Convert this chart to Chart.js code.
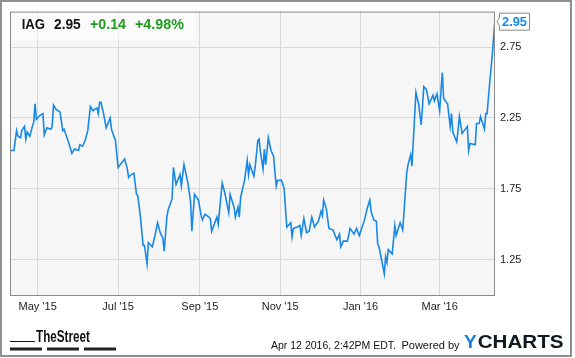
<!DOCTYPE html>
<html><head><meta charset="utf-8">
<script src="https://cdn.jsdelivr.net/npm/chart.js@4"></script>
<style>html,body{margin:0;padding:0;background:#fff;overflow:hidden}canvas{display:block}</style>
</head><body>
<canvas id="c" width="575" height="358"></canvas>
<script>
// Days since 2015-04-10 (first session shown)
const startDate = '2015-04-10';
const days = [
  0,3,5,6,8,9,11,12,13,15,
  17,18,19,20,23,25,26,28,31,32,
  33,35,38,40,41,44,47,49,52,53,
  55,57,59,61,63,64,66,67,68,69,
  71,73,76,77,80,82,87,89,90,92,
  94,96,97,99,101,102,104,105,108,110,
  112,114,116,117,119,120,123,124,126,129,
  130,132,135,137,138,140,143,145,146,148,
  151,152,153,155,157,158,161,163,166,167,
  170,171,173,174,175,178,180,181,182,185,
  186,188,189,190,192,193,194,196,198,200,
  201,202,203,206,208,210,213,214,215,218,
  220,221,223,225,227,229,231,234,236,237,
  238,240,242,245,248,250,251,253,256,258,
  261,263,265,269,271,273,274,276,278,279,
  280,284,285,286,287,290,292,293,294,296,
  298,301,302,304,305,308,310,312,314,316,
  318,319,321,322,324,326,328,329,331,332,
  334,335,336,339,341,343,347,348,349,353,
  354,356,357,360,361,362,364,366,368
];
const prices = [
  2.02,2.02,2.16,2.12,2.11,2.16,2.19,2.10,2.15,2.12,
  2.19,2.22,2.35,2.24,2.27,2.28,2.13,2.18,2.17,2.19,
  2.34,2.31,2.29,2.16,2.17,2.09,2.00,2.03,2.02,2.06,
  2.05,2.09,2.16,2.33,2.30,2.31,2.32,2.28,2.36,2.36,
  2.28,2.18,2.25,2.17,2.09,1.90,1.96,1.89,1.83,1.85,
  1.86,1.71,1.70,1.55,1.35,1.35,1.22,1.37,1.34,1.42,
  1.51,1.44,1.40,1.31,1.55,1.60,1.68,1.90,1.78,1.85,
  1.77,1.92,1.79,1.66,1.45,1.71,1.67,1.56,1.53,1.57,
  1.55,1.54,1.45,1.50,1.55,1.50,1.79,1.72,1.58,1.71,
  1.62,1.55,1.62,1.55,1.69,1.81,1.95,1.85,1.92,1.84,
  1.90,2.09,2.10,2.01,1.89,2.03,1.92,2.11,2.02,1.98,
  1.87,1.77,1.81,1.81,1.75,1.48,1.51,1.41,1.47,1.48,
  1.49,1.42,1.54,1.44,1.45,1.55,1.48,1.52,1.59,1.56,
  1.67,1.61,1.47,1.46,1.39,1.43,1.34,1.38,1.38,1.47,
  1.43,1.47,1.42,1.53,1.61,1.67,1.59,1.53,1.52,1.36,
  1.34,1.15,1.27,1.23,1.32,1.29,1.49,1.42,1.45,1.51,
  1.46,1.86,1.92,1.99,1.91,2.43,2.35,2.20,2.47,2.45,
  2.35,2.37,2.41,2.37,2.42,2.30,2.57,2.39,2.36,2.35,
  2.19,2.28,2.15,2.08,2.26,2.14,2.19,2.02,2.07,2.06,
  2.21,2.21,2.26,2.17,2.28,2.28,2.50,2.70,2.95
];
const tickDays = [21, 82, 144, 205, 266, 326];
const tickLabels = ["May '15", "Jul '15", "Sep '15", "Nov '15", "Jan '16", "Mar '16"];
const yTicks = [1.25, 1.75, 2.25, 2.75];
const ticker = 'IAG';
const lastPrice = '2.95';
const change = '+0.14';
const changePct = '+4.98%';
const stamp = 'Apr 12 2016, 2:42PM EDT.';
const poweredBy = 'Powered by';

const FONT = '"Liberation Sans", Arial, Helvetica, sans-serif';
const LINE = '#1788e6';
const GRID = '#d9d9d9';

const points = days.map((d, i) => ({ x: d, y: prices[i] }));

function fitText(ctx, text, x, y, w) {
  const m = ctx.measureText(text).width;
  ctx.save();
  ctx.translate(x, y);
  ctx.scale(w / m, 1);
  ctx.fillText(text, 0, 0);
  ctx.restore();
}

const decor = {
  id: 'decor',
  beforeDraw(chart) {
    const { ctx, chartArea: a } = chart;
    ctx.save();
    ctx.fillStyle = '#fff';
    ctx.fillRect(0, 0, chart.width, chart.height);
    ctx.fillStyle = '#f6f6f6';
    ctx.fillRect(a.left, a.top, a.right - a.left, a.bottom - a.top);
    ctx.restore();
  },
  beforeDatasetsDraw(chart) {
    const { ctx, chartArea: a } = chart;
    ctx.save();
    ctx.fillStyle = 'rgba(255,255,255,0.55)';
    ctx.fillRect(a.left + 1, a.top + 1, 185, 27);
    ctx.restore();
  },
  afterDraw(chart) {
    const { ctx, chartArea: a } = chart;
    const xs = chart.scales.x, ys = chart.scales.y;
    ctx.save();
    // plot frame
    ctx.strokeStyle = '#8c8c8c';
    ctx.lineWidth = 1;
    ctx.strokeRect(a.left + 0.5, a.top + 0.5, a.right - a.left - 1, a.bottom - a.top);
    // outer frame
    ctx.strokeStyle = '#8f8f8f';
    ctx.lineWidth = 2;
    ctx.strokeRect(1, 1, 570, 355);

    // header
    ctx.textBaseline = 'alphabetic';
    ctx.textAlign = 'left';
    ctx.font = 'bold 14px ' + FONT;
    ctx.fillStyle = '#111';
    fitText(ctx, ticker, 21.7, 28.5, 23.3);
    fitText(ctx, lastPrice, 54, 28.5, 26.7);
    ctx.fillStyle = '#1f9c1f';
    fitText(ctx, change, 90, 28.5, 36);
    fitText(ctx, changePct, 135, 28.5, 49);

    // last value flag
    const last = points[points.length - 1];
    const px = xs.getPixelForValue(last.x);
    const py = ys.getPixelForValue(last.y);
    const cy = py + 3;
    const bx = 499.5, bw = 30, bh = 17;
    ctx.beginPath();
    ctx.moveTo(bx, cy - bh / 2);
    ctx.lineTo(bx + bw, cy - bh / 2);
    ctx.lineTo(bx + bw, cy + bh / 2);
    ctx.lineTo(bx, cy + bh / 2);
    ctx.lineTo(bx, cy + 4);
    ctx.lineTo(px + 2, cy);
    ctx.lineTo(bx, cy - 4);
    ctx.closePath();
    ctx.fillStyle = '#fff';
    ctx.fill();
    ctx.strokeStyle = '#888';
    ctx.lineWidth = 1;
    ctx.stroke();
    ctx.font = 'bold 13px ' + FONT;
    ctx.fillStyle = LINE;
    fitText(ctx, last.y.toFixed(2), bx + 2.5, cy + 4.5, 25);

    // footer: TheStreet
    ctx.fillStyle = '#111';
    ctx.font = 'bold 16px "Liberation Sans Narrow", ' + FONT;
    fitText(ctx, 'TheStreet', 36, 341.5, 54);
    ctx.fillRect(10, 341, 25, 1);
    ctx.fillStyle = '#222';
    ctx.fillRect(10, 347.5, 32, 3);
    ctx.fillRect(47, 347.5, 32, 3);
    ctx.fillRect(84, 347.5, 32, 3);

    // footer: stamp + ycharts
    ctx.fillStyle = '#111';
    ctx.font = '11px ' + FONT;
    fitText(ctx, stamp, 271, 349, 125);
    fitText(ctx, poweredBy, 401.5, 349, 58);
    ctx.font = 'bold 19px ' + FONT;
    ctx.fillStyle = '#1a7fd6';
    ctx.fillText('Y', 464, 348);
    const yW = ctx.measureText('Y').width;
    ctx.fillStyle = '#101820';
    fitText(ctx, 'CHARTS', 464 + yW + 1, 348, 563.5 - 464 - yW - 1);
    ctx.restore();
  }
};

new Chart(document.getElementById('c'), {
  type: 'line',
  data: { datasets: [{ data: points, borderColor: LINE, borderWidth: 1.6, pointRadius: 0, tension: 0, fill: false }] },
  options: {
    responsive: false, animation: false, devicePixelRatio: 1,
    layout: { padding: { left: 10, top: 10, right: 0, bottom: 0 }, autoPadding: false },
    plugins: { legend: { display: false }, tooltip: { enabled: false }, title: { display: false } },
    scales: {
      x: {
        type: 'linear', min: 0, max: 368, position: 'bottom',
        afterBuildTicks: s => { s.ticks = tickDays.map(v => ({ value: v })); },
        afterFit: s => { s.height = 63; },
        grid: { color: GRID, drawTicks: false, lineWidth: 1 },
        border: { display: false },
        ticks: { padding: 5, maxRotation: 0, autoSkip: false, color: '#222', font: { family: FONT, size: 11 },
          callback: (v, i) => tickLabels[i] }
      },
      y: {
        type: 'linear', position: 'right', min: 1.0, max: 3.0,
        afterBuildTicks: s => { s.ticks = yTicks.map(v => ({ value: v })); },
        afterFit: s => { s.width = 80; },
        grid: { color: GRID, drawTicks: false, lineWidth: 1 },
        border: { display: false },
        ticks: { padding: 5, color: '#222', font: { family: FONT, size: 11 },
          callback: v => Number(v).toFixed(2) }
      }
    }
  },
  plugins: [decor]
});
</script>
</body></html>
